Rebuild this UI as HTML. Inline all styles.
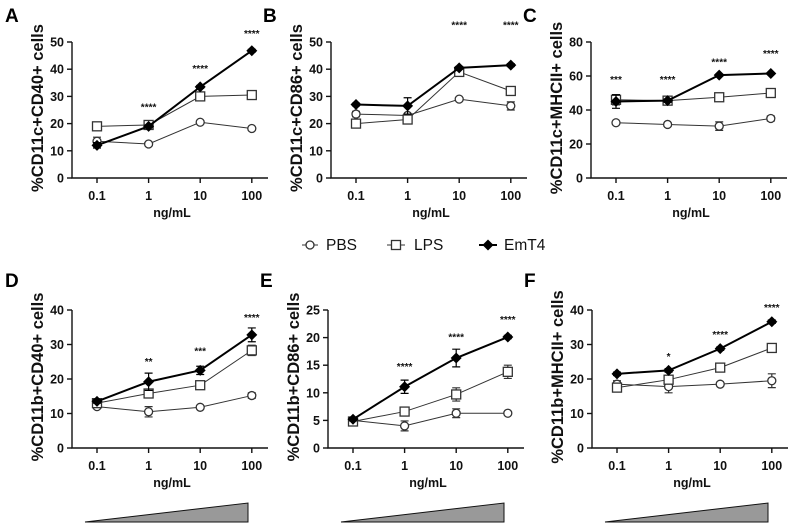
<!DOCTYPE html>
<html><head><meta charset="utf-8"><style>
body{margin:0;background:#fff}
svg{display:block;font-family:"Liberation Sans",Arial,sans-serif}
.t{font-size:12.5px;font-weight:bold;fill:#111}
.yl{font-size:16.5px;font-weight:bold;fill:#111}
.pl{font-size:19px;font-weight:bold;fill:#000}
.st{font-size:10px;font-weight:bold;fill:#111}
.lg{font-size:15.5px;fill:#111}
</style></head><body>
<svg id="c" width="800" height="524" viewBox="0 0 800 524">
<g>
 <g><line x1="302" y1="245" x2="318" y2="245" stroke="#333" stroke-width="1"/><circle cx="310" cy="245" r="4" fill="#fff" stroke="#333" stroke-width="1.3"/><text class="lg" x="326" y="250">PBS</text></g>
 <g><line x1="387" y1="245" x2="405" y2="245" stroke="#333" stroke-width="1"/><rect x="391.5" y="240.5" width="9" height="9" fill="#fff" stroke="#333" stroke-width="1.3"/><text class="lg" x="414" y="250">LPS</text></g>
 <g><line x1="479" y1="245" x2="497" y2="245" stroke="#000" stroke-width="2"/><polygon points="488,239.5 493.5,245 488,250.5 482.5,245" fill="#000"/><text class="lg" x="504" y="250">EmT4</text></g>
</g>
</svg>
<script>
const categories=["0.1","1","10","100"];
const panelLetters=["A","B","C","D","E","F"];
const yTitles=["%CD11c+CD40+ cells","%CD11c+CD86+ cells","%CD11c+MHCII+ cells","%CD11b+CD40+ cells","%CD11b+CD86+ cells","%CD11b+MHCII+ cells"];
const yMaxes=[50,50,80,40,25,40];
const yStepsArr=[10,10,20,10,5,10];
const pbsA=[13.5,12.5,20.5,18.2], lpsA=[19,19.5,30,30.5], emtA=[12,19,33.5,46.8];
const pbsB=[23.5,23,29,26.5], lpsB=[20,21.5,39,32], emtB=[27,26.5,40.5,41.5];
const pbsC=[32.5,31.5,30.5,35], lpsC=[46,45.5,47.5,50], emtC=[45,45.5,60.5,61.5];
const pbsD=[12,10.5,11.8,15.2], lpsD=[13,15.8,18.2,28.3], emtD=[13.5,19.2,22.5,32.8];
const pbsE=[5,4,6.3,6.3], lpsE=[4.8,6.6,9.7,13.8], emtE=[5.2,11.1,16.3,20.1];
const pbsF=[18.5,17.8,18.5,19.5], lpsF=[17.5,19.8,23.3,29], emtF=[21.5,22.5,28.8,36.6];
const errPbs=[[1.5,0.5,0.5,0.5],[1,0.5,0.5,1.5],[1,1,2.5,1.5],[0.5,1.5,0.5,0.8],[0.4,0.9,0.8,0.3],[1,1.8,0.5,2]];
const errLps=[[0.5,0.5,1,1],[0.5,0.5,1,1.5],[3,1,1,1],[0.5,0.5,0.8,1.5],[0.3,0.5,1.2,1.2],[0.5,0.5,0.5,0.5]];
const errEmt=[[1,0.5,0.5,0.5],[0.5,3,0.5,0.5],[4,1,0.5,0.5],[0.5,2.5,1.2,2],[0.3,1.2,1.6,0.3],[0.5,0.5,0.5,0.5]];
const starLabels=[["","****","****","****"],["","","****","****"],["***","****","****","****"],["","**","***","****"],["","****","****","****"],["","*","****","****"]];
const starY=[[0,26,40,53],[0,0,56,56],[57.6,57.6,68,73],[0,25,28,37.7],[0,14.7,20,23.2],[0,26.4,32.8,40.6]];
const allSeries=[[pbsA,lpsA,emtA],[pbsB,lpsB,emtB],[pbsC,lpsC,emtC],[pbsD,lpsD,emtD],[pbsE,lpsE,emtE],[pbsF,lpsF,emtF]];

const NS="http://www.w3.org/2000/svg";
const svg=document.getElementById('c');
function mk(tag,attrs,parent){const e=document.createElementNS(NS,tag);for(const k in attrs)e.setAttribute(k,attrs[k]);parent.appendChild(e);return e;}
const axX=[72,331,591,72,328,592];
const topY=[42,42,42,310,310,310];
const botY=[178,178,178,448,448,448];
for(let p=0;p<6;p++){
 const g=mk('g',{},svg);
 
 
 const x0=axX[p],yT=topY[p],yB=botY[p],ym=yMaxes[p];
 const xs=i=>x0+25+i*51.6;
 const ys=v=>yB-(v/ym)*(yB-yT);
 const letter=mk('text',{class:'pl',x:x0-68+(p%3==0?1:0),y:yT-20+(p>=3?-3:0)},g);letter.textContent=panelLetters[p];
 
 
 const ax=mk('path',{d:`M${x0},${yT} V${yB} H${x0+196}`,stroke:'#111','stroke-width':1.4,fill:'none'},g);
 
 
 for(let v=0;v<=ym;v+=yStepsArr[p]){
  mk('line',{x1:x0-5,x2:x0,y1:ys(v),y2:ys(v),stroke:'#111','stroke-width':1.4},g);
  const t=mk('text',{class:'t',x:x0-8,y:ys(v)+4.5,'text-anchor':'end'},g);t.textContent=v;
  
  
 }
 categories.forEach((c,i)=>{
  mk('line',{x1:xs(i),x2:xs(i),y1:yB,y2:yB+5,stroke:'#111','stroke-width':1.4},g);
  const t=mk('text',{class:'t',x:xs(i),y:yB+22,'text-anchor':'middle'},g);t.textContent=c;
  
  
 });
 const xl=mk('text',{class:'t',x:x0+100,y:yB+39,'text-anchor':'middle'},g);xl.textContent='ng/mL';
 
 
 const yt=mk('text',{class:'yl',transform:`translate(${x0-29},${(yT+yB)/2-2}) rotate(-90)`,'text-anchor':'middle'},g);yt.textContent=yTitles[p];
 
 
 const errs=[errPbs[p],errLps[p],errEmt[p]];
 const names=['pbs','lps','emt4'];
 allSeries[p].forEach((s,k)=>{
  const sg=mk('g',{},g);
  
  
  const col=k==2?'#000':'#333';
  mk('polyline',{points:s.map((v,i)=>xs(i)+','+ys(v)).join(' '),fill:'none',stroke:col,'stroke-width':k==2?2:1},sg);
  s.forEach((v,i)=>{
   const e=errs[k][i];
   mk('path',{d:`M${xs(i)},${ys(v+e)} V${ys(v-e)} M${xs(i)-4},${ys(v+e)} H${xs(i)+4} M${xs(i)-4},${ys(v-e)} H${xs(i)+4}`,stroke:col,'stroke-width':1.2,fill:'none'},sg);
   let m;
   if(k==0)m=mk('circle',{cx:xs(i),cy:ys(v),r:4,fill:'#fff',stroke:'#333','stroke-width':1.3},sg);
   else if(k==1)m=mk('rect',{x:xs(i)-4.5,y:ys(v)-4.5,width:9,height:9,fill:'#fff',stroke:'#333','stroke-width':1.3},sg);
   else m=mk('polygon',{points:`${xs(i)},${ys(v)-5.5} ${xs(i)+5.5},${ys(v)} ${xs(i)},${ys(v)+5.5} ${xs(i)-5.5},${ys(v)}`,fill:'#000'},sg);
   
   
  });
 });
 starLabels[p].forEach((s,i)=>{
  if(!s)return;
  const t=mk('text',{class:'st',x:xs(i),y:ys(starY[p][i])+3,'text-anchor':'middle'},g);t.textContent=s;
  
  
 });
 if(p>=3){
  const tr=mk('polygon',{points:`${x0+13},522 ${x0+176},522 ${x0+176},503`,fill:'#999',stroke:'#111','stroke-width':1},g);
  
  
 }
}
</script>
</body></html>
